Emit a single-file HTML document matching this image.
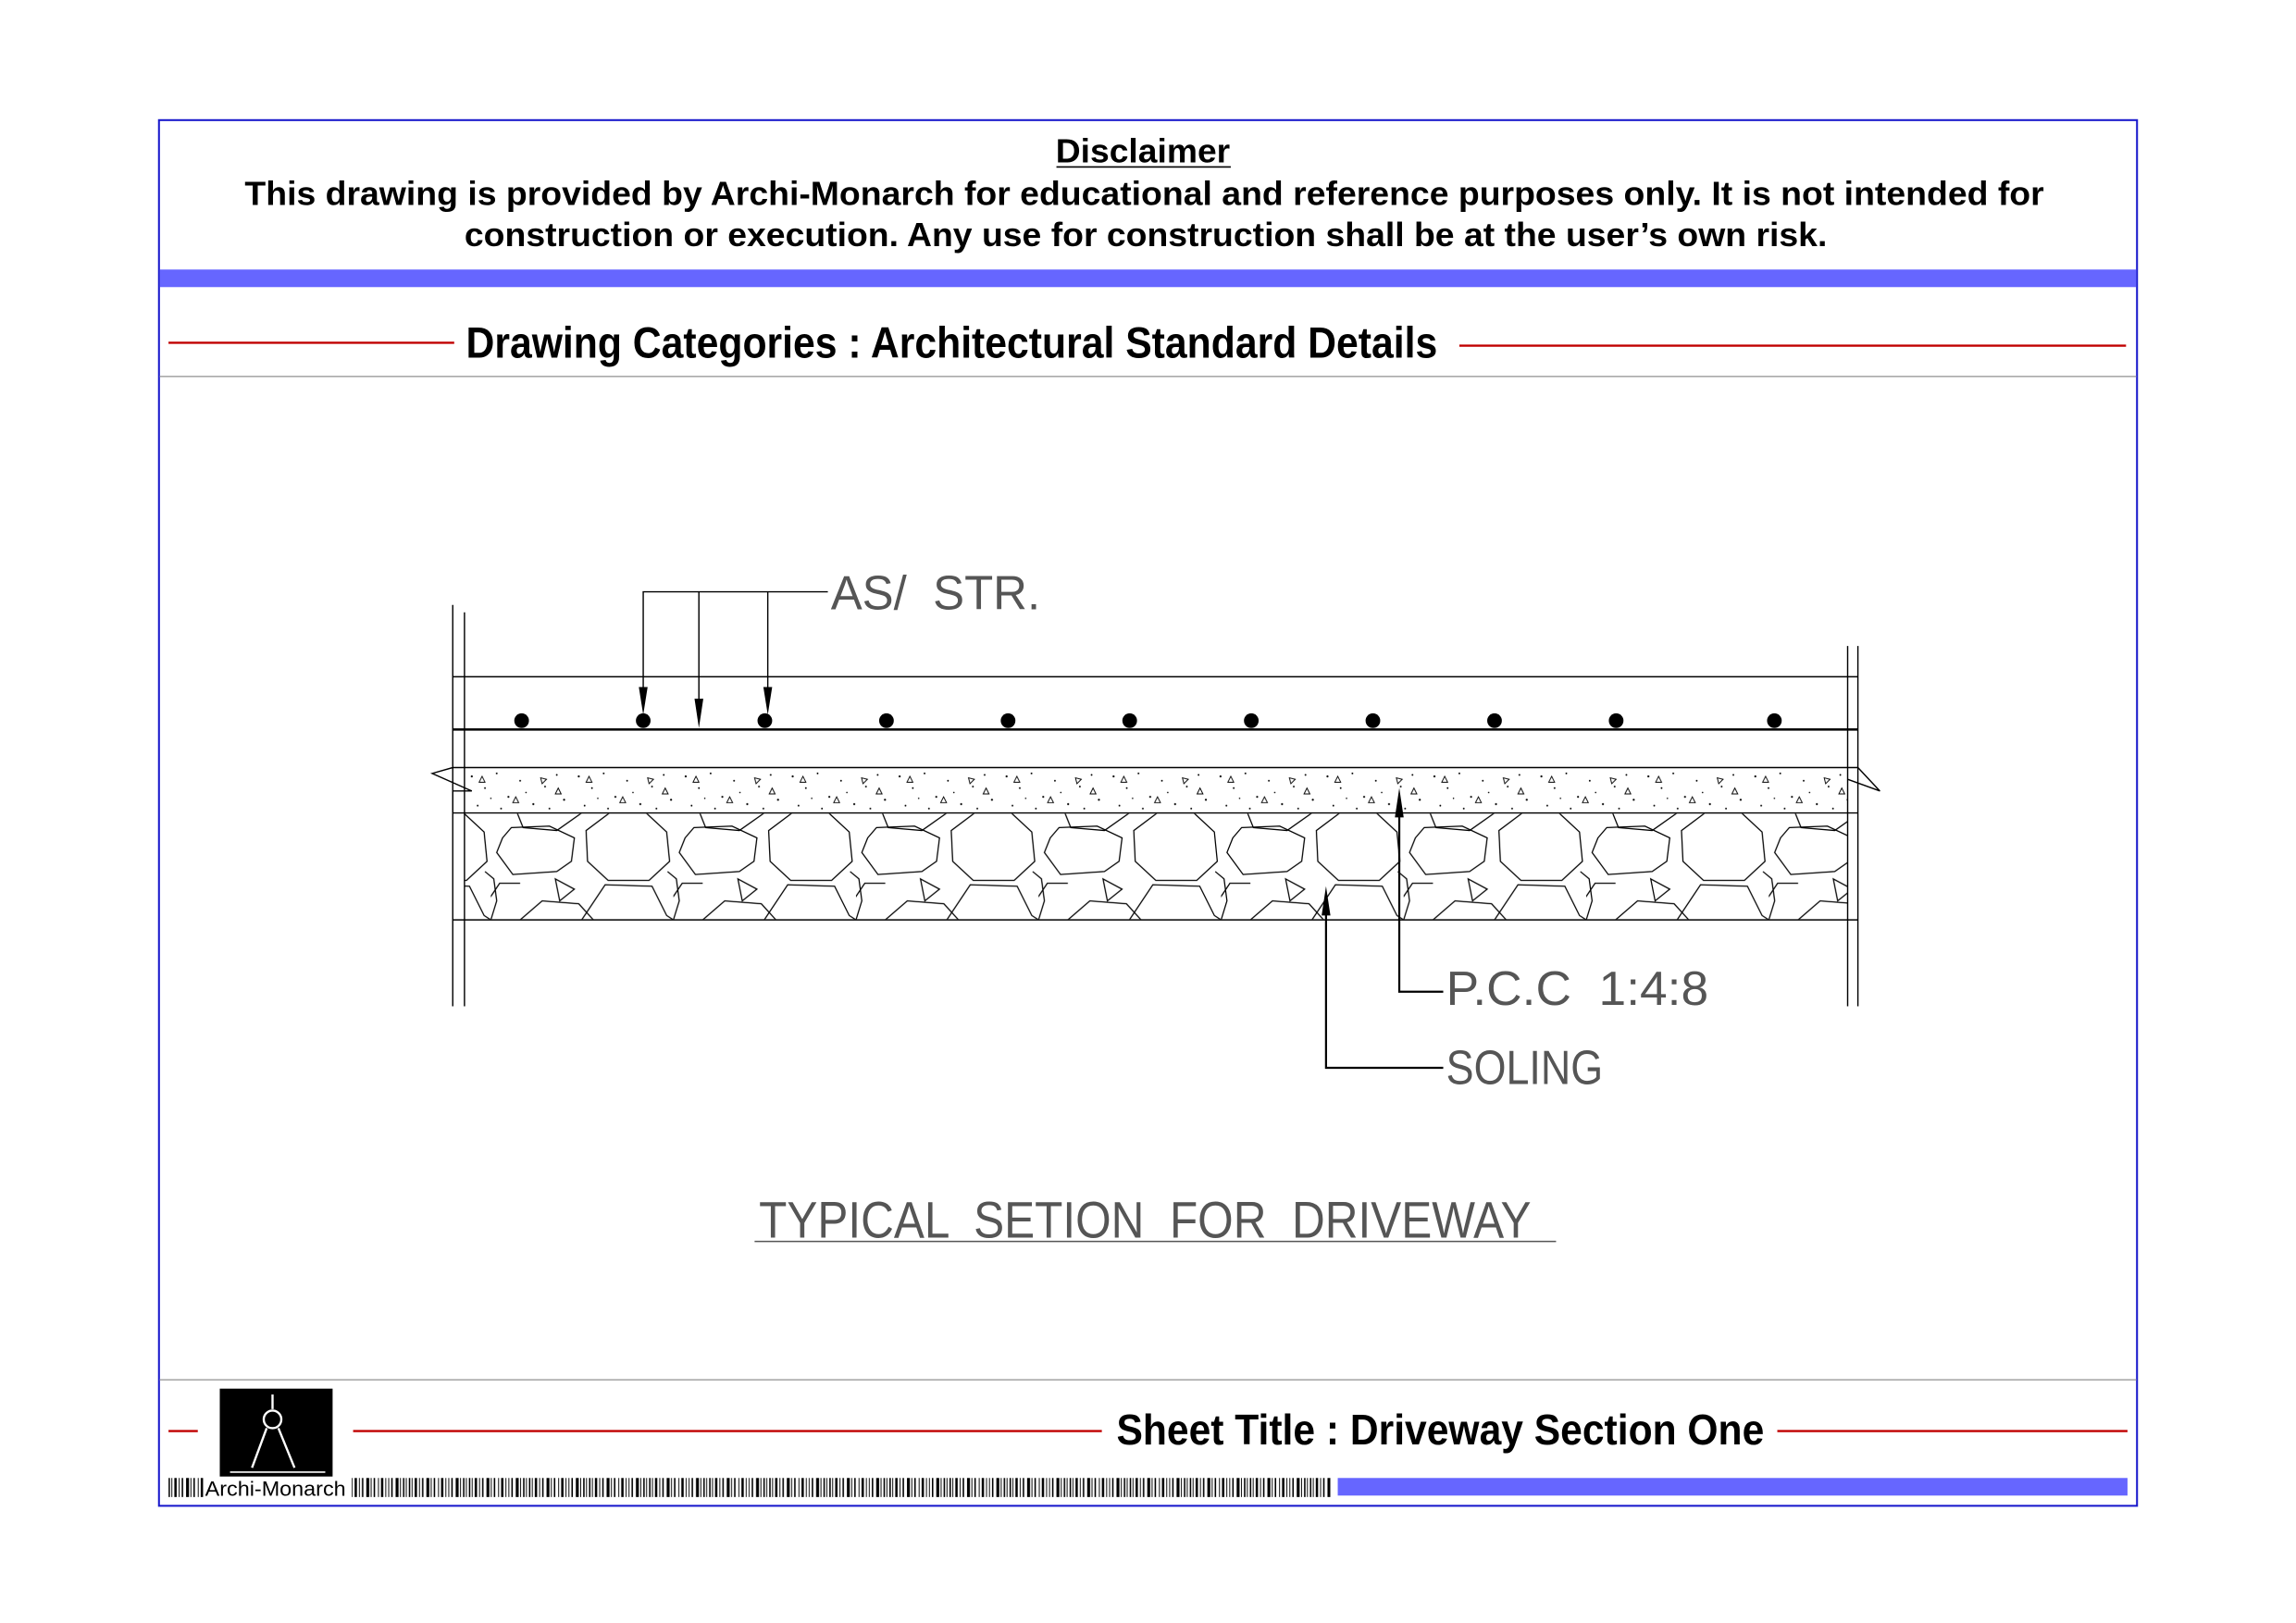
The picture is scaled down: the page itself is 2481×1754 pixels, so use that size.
<!DOCTYPE html>
<html><head><meta charset="utf-8"><style>
html,body{margin:0;padding:0;background:#fff;}
svg{display:block;}
text{font-family:"Liberation Sans",Arial,sans-serif;}
</style></head><body>
<svg width="2481" height="1754" viewBox="0 0 1567 1108" preserveAspectRatio="none" xmlns="http://www.w3.org/2000/svg">
<defs>
<pattern id="sol" patternUnits="userSpaceOnUse" x="335" y="555" width="124.6" height="73">
<g fill="none" stroke="#000" stroke-width="0.8">
<polygon points="81,0 106,0 120,13 122,33 108,46 80,46 66,33 65,12"/>
<polygon points="8,17 14,10 40,9 57,17 55,33 45,40 15,42 4,27"/>
<polygon points="44,45 57,52 47,60"/>
<polyline points="18,0 22,10 45,12 62,0"/>
<polyline points="20,73 35,60 60,62 70,73"/>
<polyline points="62,73 78,49 110,50 120,70 124.6,73"/>
<polyline points="0,73 4,60 2,45 -4,40"/>
<polyline points="124.6,73 128.6,60 126.6,45 120.6,40"/>
<polyline points="-2,60 6,48 20,48"/>
</g>
</pattern>
<pattern id="pcc" patternUnits="userSpaceOnUse" x="317" y="524" width="73" height="31">
<g fill="#000">
<circle cx="5" cy="6" r="0.7"/><circle cx="14" cy="14" r="0.6"/><circle cx="22" cy="4" r="0.6"/><circle cx="30" cy="20" r="0.7"/>
<circle cx="38" cy="9" r="0.6"/><circle cx="47" cy="25" r="0.7"/><circle cx="55" cy="13" r="0.6"/><circle cx="63" cy="5" r="0.6"/>
<circle cx="68" cy="22" r="0.7"/><circle cx="9" cy="26" r="0.6"/><circle cx="25" cy="28" r="0.6"/><circle cx="58" cy="28" r="0.6"/>
<circle cx="42" cy="17" r="0.5"/><circle cx="18" cy="21" r="0.5"/>
</g>
<g fill="none" stroke="#000" stroke-width="0.6">
<polygon points="10,10 14,10 12,6"/><polygon points="33,24 37,24 35,20"/><polygon points="52,7 56,8 53,11"/><polygon points="62,18 66,18 64,14"/>
</g>
</pattern>
<pattern id="bar" patternUnits="userSpaceOnUse" x="115" y="1009" width="41" height="13">
<g fill="#000">
<rect x="0" y="0" width="1" height="13"/><rect x="2" y="0" width="0.6" height="13"/><rect x="4" y="0" width="1.6" height="13"/>
<rect x="7" y="0" width="0.6" height="13"/><rect x="9" y="0" width="1" height="13"/><rect x="12" y="0" width="2" height="13"/>
<rect x="15" y="0" width="0.6" height="13"/><rect x="17" y="0" width="1" height="13"/><rect x="20" y="0" width="0.6" height="13"/>
<rect x="22" y="0" width="1.6" height="13"/><rect x="25" y="0" width="0.6" height="13"/><rect x="27" y="0" width="0.6" height="13"/>
<rect x="29" y="0" width="1" height="13"/><rect x="32" y="0" width="2" height="13"/><rect x="35" y="0" width="0.6" height="13"/>
<rect x="37" y="0" width="1" height="13"/><rect x="39" y="0" width="0.6" height="13"/>
</g>
</pattern>
</defs>

<rect x="108.5" y="82" width="1350" height="946" fill="none" stroke="#1a1acc" stroke-width="1.3"/>
<text x="780" y="111" font-size="23" font-weight="bold" text-anchor="middle" textLength="119" lengthAdjust="spacingAndGlyphs">Disclaimer</text>
<line x1="721" y1="114" x2="840" y2="114" stroke="#000" stroke-width="1"/>
<text x="781" y="140" font-size="23" font-weight="bold" text-anchor="middle" textLength="1228" lengthAdjust="spacingAndGlyphs">This drawing is provided by Archi-Monarch for educational and reference purposes only. It is not intended for</text>
<text x="782" y="168" font-size="23" font-weight="bold" text-anchor="middle" textLength="930" lengthAdjust="spacingAndGlyphs">construction or execution. Any use for construction shall be at the user’s own risk.</text>
<rect x="109" y="184" width="1349" height="12" fill="#6666ff"/>

<line x1="115" y1="234" x2="310" y2="234" stroke="#c00000" stroke-width="1.5"/>
<line x1="996" y1="236" x2="1451" y2="236" stroke="#c00000" stroke-width="1.5"/>
<text x="318" y="244" font-size="30" font-weight="bold" textLength="663" lengthAdjust="spacingAndGlyphs">Drawing Categories : Architectural Standard Details</text>
<line x1="109" y1="257" x2="1458" y2="257" stroke="#aaa" stroke-width="1"/>

<g stroke="#000" fill="none" stroke-width="0.9">
<line x1="309" y1="413" x2="309" y2="687"/><line x1="317" y1="418" x2="317" y2="687"/>
<line x1="1261" y1="441" x2="1261" y2="687"/><line x1="1268" y1="441" x2="1268" y2="687"/>
<line x1="309" y1="462" x2="1268" y2="462"/>
<line x1="309" y1="498" x2="1268" y2="498" stroke-width="1.6"/>
<line x1="317" y1="524" x2="1261" y2="524"/>
<line x1="309" y1="555" x2="1268" y2="555"/>
<line x1="309" y1="628" x2="1268" y2="628"/>
<polyline points="317,524 309,524 295,528 322,540 309,540 309,555"/>
<polyline points="1261,524 1268,524 1283,540 1261,532"/>
</g>
<rect x="317" y="524.5" width="944" height="30" fill="url(#pcc)"/>
<rect x="317" y="555.5" width="944" height="72" fill="url(#sol)"/>
<g fill="#000">
<circle cx="356" cy="492" r="5"/><circle cx="439" cy="492" r="5"/><circle cx="522" cy="492" r="5"/><circle cx="605" cy="492" r="5"/>
<circle cx="688" cy="492" r="5"/><circle cx="771" cy="492" r="5"/><circle cx="854" cy="492" r="5"/><circle cx="937" cy="492" r="5"/>
<circle cx="1020" cy="492" r="5"/><circle cx="1103" cy="492" r="5"/><circle cx="1211" cy="492" r="5"/>
</g>
<g stroke="#000" fill="none" stroke-width="0.9">
<polyline points="565,404 439,404 439,470"/>
<line x1="477" y1="404" x2="477" y2="478"/>
<line x1="524" y1="404" x2="524" y2="470"/>
<polyline points="955,548 955,677 985,677" stroke-width="1.4"/>
<polyline points="905,615 905,729 985,729" stroke-width="1.4"/>
</g>
<g fill="#000">
<polygon points="436,469 442,469 439,488"/>
<polygon points="474,477 480,477 477,497"/>
<polygon points="521,469 527,469 524,488"/>
<polygon points="952,558 958,558 955,538"/>
<polygon points="902,625 908,625 905,605"/>
</g>
<g fill="#555" font-size="33">
<text x="567" y="416" textLength="143" lengthAdjust="spacingAndGlyphs" xml:space="preserve">AS/  STR.</text>
<text x="987" y="686" textLength="179" lengthAdjust="spacingAndGlyphs" xml:space="preserve">P.C.C  1:4:8</text>
<text x="987" y="740" textLength="107" lengthAdjust="spacingAndGlyphs">SOLING</text>
<text x="518" y="845" font-size="35" textLength="527" lengthAdjust="spacingAndGlyphs" xml:space="preserve">TYPICAL  SETION  FOR  DRIVEWAY</text>
</g>
<line x1="515" y1="847.5" x2="1062" y2="847.5" stroke="#555" stroke-width="0.9"/>

<line x1="109" y1="942" x2="1458" y2="942" stroke="#aaa" stroke-width="1"/>
<line x1="115" y1="977" x2="135" y2="977" stroke="#c00000" stroke-width="1.5"/>
<line x1="241" y1="977" x2="752" y2="977" stroke="#c00000" stroke-width="1.5"/>
<line x1="1213" y1="977" x2="1452" y2="977" stroke="#c00000" stroke-width="1.5"/>
<rect x="150" y="948" width="77" height="60" fill="#000"/>
<g stroke="#fff" stroke-width="1.5" fill="none">
<line x1="186" y1="952" x2="186" y2="962"/>
<circle cx="186" cy="969" r="6"/>
<line x1="182" y1="975" x2="172" y2="1002"/>
<line x1="190" y1="975" x2="201" y2="1002"/>
<line x1="157" y1="1005" x2="222" y2="1005" stroke-width="1"/>
</g>
<text x="762" y="986" font-size="29" font-weight="bold" textLength="442" lengthAdjust="spacingAndGlyphs">Sheet Title : Driveway Section One</text>
<rect x="115" y="1009" width="24" height="13" fill="url(#bar)"/>
<rect x="240" y="1009" width="668" height="13" fill="url(#bar)"/>
<text x="140" y="1021" font-size="14" textLength="96" lengthAdjust="spacingAndGlyphs">Archi-Monarch</text>
<rect x="913" y="1009" width="539" height="12" fill="#6666ff"/>
</svg>
</body></html>
